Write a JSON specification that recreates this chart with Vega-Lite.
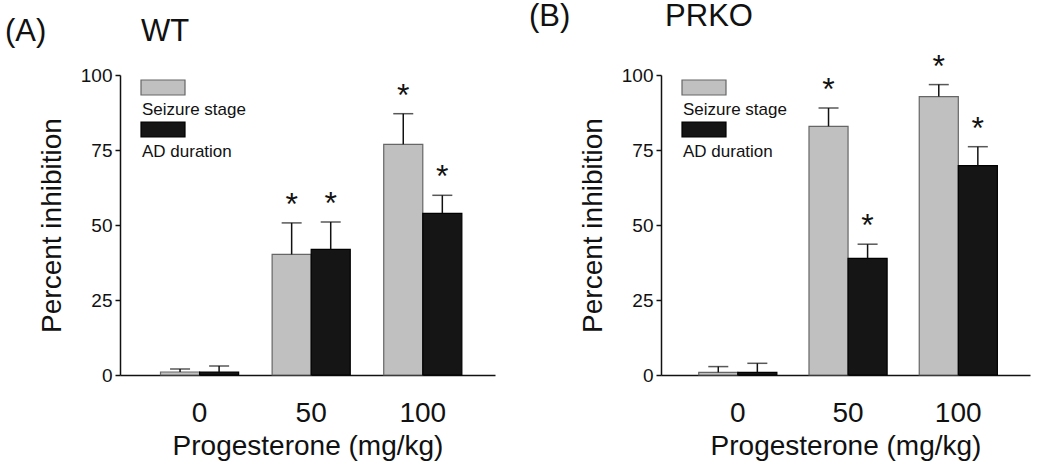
{
  "$schema": "https://vega.github.io/schema/vega-lite/v6.json",
  "background": "white",
  "padding": {"left": 5, "top": 0, "right": 5, "bottom": 2},
  "spacing": 34,
  "config": {
    "font": "Liberation Sans",
    "view": {"stroke": null},
    "axis": {"domainColor": "#111", "domainWidth": 1.5, "tickColor": "#111", "tickWidth": 1.5, "labelColor": "#111", "titleColor": "#111", "titleFontWeight": "normal", "grid": false, "labelFont": "Liberation Sans", "titleFont": "Liberation Sans"},
    "legend": {"labelFont": "Liberation Sans"},
    "title": {"font": "Liberation Sans", "fontWeight": "normal", "fontSize": 31, "color": "#111", "anchor": "start", "frame": "group"}
  },
  "resolve": {"scale": {"color": "independent", "stroke": "independent"}},
  "hconcat": [
    {
      "title": {"text": "(A)\u00a0\u00a0\u00a0\u00a0\u00a0\u00a0\u00a0\u00a0\u00a0\u00a0\u00a0WT", "dx": -115, "dy": -2, "offset": 16},
      "width": 375,
      "height": 300,
      "data": {"values": [
        {"dose": "0", "measure": "Seizure stage", "mean": 1.0, "upper": 2.0, "sig": false},
        {"dose": "0", "measure": "AD duration", "mean": 1.0, "upper": 3.0, "sig": false},
        {"dose": "50", "measure": "Seizure stage", "mean": 40.2, "upper": 50.7, "sig": true},
        {"dose": "50", "measure": "AD duration", "mean": 41.9, "upper": 51.0, "sig": true},
        {"dose": "100", "measure": "Seizure stage", "mean": 76.9, "upper": 87.1, "sig": true},
        {"dose": "100", "measure": "AD duration", "mean": 53.9, "upper": 59.9, "sig": true}
      ]},
      "encoding": {
        "x": {"field": "dose", "type": "nominal", "sort": ["0", "50", "100"],
          "scale": {"paddingInner": 0.3, "paddingOuter": 0.33, "align": 0.55},
          "axis": {"title": "Progesterone (mg/kg)", "labelAngle": 0, "ticks": false, "labelFontSize": 28, "labelPadding": 24, "titleFontSize": 28, "titlePadding": 5}},
        "xOffset": {"field": "measure", "type": "nominal", "sort": ["Seizure stage", "AD duration"], "scale": {"paddingInner": 0, "paddingOuter": 0}}
      },
      "layer": [
        {
          "mark": {"type": "bar", "strokeWidth": 1.2},
          "encoding": {
            "y": {"field": "mean", "type": "quantitative", "scale": {"domain": [0, 100], "nice": false},
              "axis": {"title": "Percent inhibition", "values": [0, 25, 50, 75, 100], "tickSize": 5, "labelFontSize": 19, "labelPadding": 3, "titleFontSize": 28, "titlePadding": 14}},
            "color": {"field": "measure", "type": "nominal", "scale": {"domain": ["Seizure stage", "AD duration"], "range": ["#c0c0c0", "#151515"]},
              "legend": {"title": null, "orient": "top-left", "offset": 19, "symbolType": "M-0.933,-2H2V-1H-0.933Z", "symbolSize": 900, "symbolOpacity": 1, "symbolStrokeWidth": 1.2, "labelFontSize": 17, "labelColor": "#111", "labelOffset": -29, "rowPadding": 1, "padding": 0}},
            "stroke": {"field": "measure", "type": "nominal", "scale": {"domain": ["Seizure stage", "AD duration"], "range": ["#666666", "#000000"]},
              "legend": {"title": null, "orient": "top-left", "offset": 19, "symbolType": "M-0.933,-2H2V-1H-0.933Z", "symbolSize": 900, "symbolOpacity": 1, "symbolStrokeWidth": 1.2, "labelFontSize": 17, "labelColor": "#111", "labelOffset": -29, "rowPadding": 1, "padding": 0}}
          }
        },
        {
          "mark": {"type": "rule", "color": "#111", "strokeWidth": 1.5},
          "encoding": {"y": {"field": "mean", "type": "quantitative"}, "y2": {"field": "upper"}}
        },
        {
          "mark": {"type": "tick", "color": "#111", "thickness": 1.5, "size": 20},
          "encoding": {"y": {"field": "upper", "type": "quantitative"}}
        },
        {
          "transform": [{"filter": "datum.sig"}],
          "mark": {"type": "text", "text": "*", "fontSize": 32, "color": "#111", "baseline": "alphabetic", "dy": -8},
          "encoding": {"y": {"field": "upper", "type": "quantitative"}}
        }
      ]
    },
    {
      "title": {"text": "(B)\u00a0\u00a0\u00a0\u00a0\u00a0\u00a0\u00a0\u00a0\u00a0\u00a0\u00a0PRKO", "dx": -132, "dy": -2, "offset": 16},
      "width": 369,
      "height": 300,
      "data": {"values": [
        {"dose": "0", "measure": "Seizure stage", "mean": 0.9, "upper": 2.8, "sig": false},
        {"dose": "0", "measure": "AD duration", "mean": 0.9, "upper": 3.9, "sig": false},
        {"dose": "50", "measure": "Seizure stage", "mean": 82.9, "upper": 89.0, "sig": true},
        {"dose": "50", "measure": "AD duration", "mean": 38.9, "upper": 43.6, "sig": true},
        {"dose": "100", "measure": "Seizure stage", "mean": 92.8, "upper": 96.8, "sig": true},
        {"dose": "100", "measure": "AD duration", "mean": 69.8, "upper": 76.1, "sig": true}
      ]},
      "encoding": {
        "x": {"field": "dose", "type": "nominal", "sort": ["0", "50", "100"],
          "scale": {"paddingInner": 0.293, "paddingOuter": 0.32, "align": 0.535},
          "axis": {"title": "Progesterone (mg/kg)", "labelAngle": 0, "ticks": false, "labelFontSize": 28, "labelPadding": 24, "titleFontSize": 28, "titlePadding": 5}},
        "xOffset": {"field": "measure", "type": "nominal", "sort": ["Seizure stage", "AD duration"], "scale": {"paddingInner": 0, "paddingOuter": 0}}
      },
      "layer": [
        {
          "mark": {"type": "bar", "strokeWidth": 1.2},
          "encoding": {
            "y": {"field": "mean", "type": "quantitative", "scale": {"domain": [0, 100], "nice": false},
              "axis": {"title": "Percent inhibition", "values": [0, 25, 50, 75, 100], "tickSize": 5, "labelFontSize": 19, "labelPadding": 3, "titleFontSize": 28, "titlePadding": 14}},
            "color": {"field": "measure", "type": "nominal", "scale": {"domain": ["Seizure stage", "AD duration"], "range": ["#c0c0c0", "#151515"]},
              "legend": {"title": null, "orient": "top-left", "offset": 19, "symbolType": "M-0.933,-2H2V-1H-0.933Z", "symbolSize": 900, "symbolOpacity": 1, "symbolStrokeWidth": 1.2, "labelFontSize": 17, "labelColor": "#111", "labelOffset": -29, "rowPadding": 1, "padding": 0}},
            "stroke": {"field": "measure", "type": "nominal", "scale": {"domain": ["Seizure stage", "AD duration"], "range": ["#666666", "#000000"]},
              "legend": {"title": null, "orient": "top-left", "offset": 19, "symbolType": "M-0.933,-2H2V-1H-0.933Z", "symbolSize": 900, "symbolOpacity": 1, "symbolStrokeWidth": 1.2, "labelFontSize": 17, "labelColor": "#111", "labelOffset": -29, "rowPadding": 1, "padding": 0}}
          }
        },
        {
          "mark": {"type": "rule", "color": "#111", "strokeWidth": 1.5},
          "encoding": {"y": {"field": "mean", "type": "quantitative"}, "y2": {"field": "upper"}}
        },
        {
          "mark": {"type": "tick", "color": "#111", "thickness": 1.5, "size": 20},
          "encoding": {"y": {"field": "upper", "type": "quantitative"}}
        },
        {
          "transform": [{"filter": "datum.sig"}],
          "mark": {"type": "text", "text": "*", "fontSize": 32, "color": "#111", "baseline": "alphabetic", "dy": -8},
          "encoding": {"y": {"field": "upper", "type": "quantitative"}}
        }
      ]
    }
  ]
}
